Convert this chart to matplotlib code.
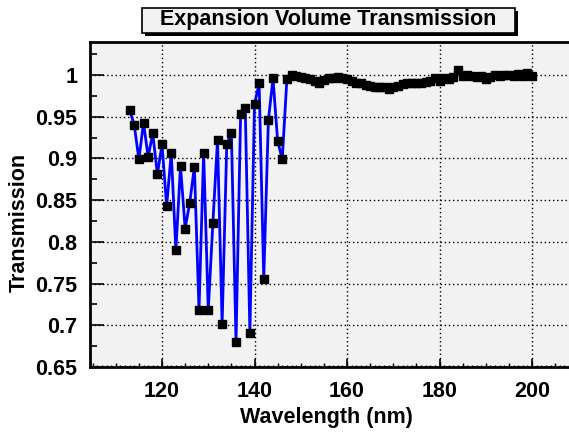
import matplotlib
matplotlib.use("Agg")
import matplotlib.pyplot as plt
from matplotlib.patches import Rectangle
from matplotlib.ticker import MultipleLocator, FixedLocator, NullFormatter
import numpy as np

plt.rcParams['font.family'] = ['Liberation Sans', 'DejaVu Sans']
plt.rcParams['font.weight'] = 'bold'

title = "Expansion Volume Transmission"
xlabel = "Wavelength (nm)"
ylabel = "Transmission"

# wavelength in nm, one point per nm
wavelength = np.arange(113, 201)
transmission = [
    0.958, 0.940, 0.899, 0.943, 0.902, 0.930, 0.881, 0.917, 0.843, 0.907,   # 113-122
    0.790, 0.891, 0.816, 0.847, 0.890, 0.718, 0.907, 0.718, 0.823, 0.922,   # 123-132
    0.702, 0.917, 0.931, 0.680, 0.953, 0.961, 0.691, 0.965, 0.990, 0.756,   # 133-142
    0.946, 0.996, 0.921, 0.899, 0.995, 1.000, 0.999, 0.998, 0.997, 0.995,   # 143-152
    0.993, 0.991, 0.994, 0.996, 0.997, 0.998, 0.997, 0.995, 0.993, 0.991,   # 153-162
    0.990, 0.988, 0.987, 0.986, 0.986, 0.986, 0.983, 0.986, 0.987, 0.989,   # 163-172
    0.990, 0.990, 0.991, 0.991, 0.992, 0.993, 0.997, 0.993, 0.996, 0.995,   # 173-182
    0.998, 1.006, 0.999, 1.000, 0.999, 0.998, 0.999, 0.995, 0.998, 1.000,   # 183-192
    0.999, 1.000, 1.000, 0.999, 1.001, 0.999, 1.002, 0.999,                 # 193-200
]

W, H = 569, 432
fs = 15.5  # ROOT text size 0.05 of the pad height

fig = plt.figure(figsize=(W / 100, H / 100), dpi=100)
fig.patch.set_facecolor('white')
ax = fig.add_axes([90 / W, (H - 367) / H, 1 - 90 / W, (367 - 41.7) / H])
ax.set_facecolor('#f2f2f2')

ax.plot(wavelength, transmission, color='#0000ff', lw=2.0, zorder=3)
ax.plot(wavelength, transmission, ls='none', marker='s', ms=5.8,
        mfc='black', mec='black', zorder=4)

ax.set_xlim(104.43, 208.0)
ax.set_ylim(0.65, 1.04)

ax.xaxis.set_major_locator(MultipleLocator(20))
ax.xaxis.set_minor_locator(MultipleLocator(1))
ax.yaxis.set_major_locator(FixedLocator([0.65, 0.7, 0.75, 0.8, 0.85, 0.9, 0.95, 1.0]))
ax.yaxis.set_minor_locator(MultipleLocator(0.025))
ax.set_yticklabels(['0.65', '0.7', '0.75', '0.8', '0.85', '0.9', '0.95', '1'])

ax.tick_params(axis='both', which='major', direction='in', width=1.2, labelsize=fs)
ax.tick_params(axis='y', which='major', length=10, pad=9)
ax.tick_params(axis='x', which='major', length=6, pad=10)
ax.tick_params(axis='x', which='minor', direction='in', length=1.5, width=1)
ax.tick_params(axis='y', which='minor', direction='in', length=5, width=1.2)
ax.tick_params(top=False, right=False)

# medium ticks every 5 nm
sec = ax.secondary_xaxis('bottom')
sec.xaxis.set_major_locator(MultipleLocator(5))
sec.xaxis.set_major_formatter(NullFormatter())
sec.tick_params(direction='in', length=2.8, width=1)
sec.spines['bottom'].set_visible(False)

ax.grid(True, which='major', color='black', ls=(0, (1, 2)), lw=1.0)
ax.set_axisbelow(True)

for s in ['left', 'bottom', 'top']:
    ax.spines[s].set_linewidth(2.0)
ax.spines['right'].set_visible(False)

ax.set_xlabel(xlabel, fontsize=fs, fontweight='bold', va='center')
ax.set_ylabel(ylabel, fontsize=fs, fontweight='bold', va='center')
ax.xaxis.set_label_coords((326 - 90) / (W - 90), -(417 - 367) / (367 - 41.7))
ax.yaxis.set_label_coords((19 - 90) / (W - 90), (367 - 222) / (367 - 41.7))

# ROOT style title box with drop shadow
bx0, bx1, by0, by1 = 141.5, 515, 7.5, 32.5
fig.patches.append(Rectangle((bx0 / W + 3 / W, 1 - by1 / H - 3 / H), (bx1 - bx0) / W,
                             (by1 - by0) / H, transform=fig.transFigure,
                             fc='black', ec='black', lw=0, zorder=1))
fig.patches.append(Rectangle((bx0 / W, 1 - by1 / H), (bx1 - bx0) / W, (by1 - by0) / H,
                             transform=fig.transFigure, fc='#f2f2f2', ec='black',
                             lw=1.2, zorder=2))
fig.text((bx0 + bx1) / 2 / W, 1 - (by0 + by1) / 2 / H, title, fontsize=fs,
         fontweight='bold', ha='center', va='center', zorder=3)

fig.savefig('out.png', dpi=100)
